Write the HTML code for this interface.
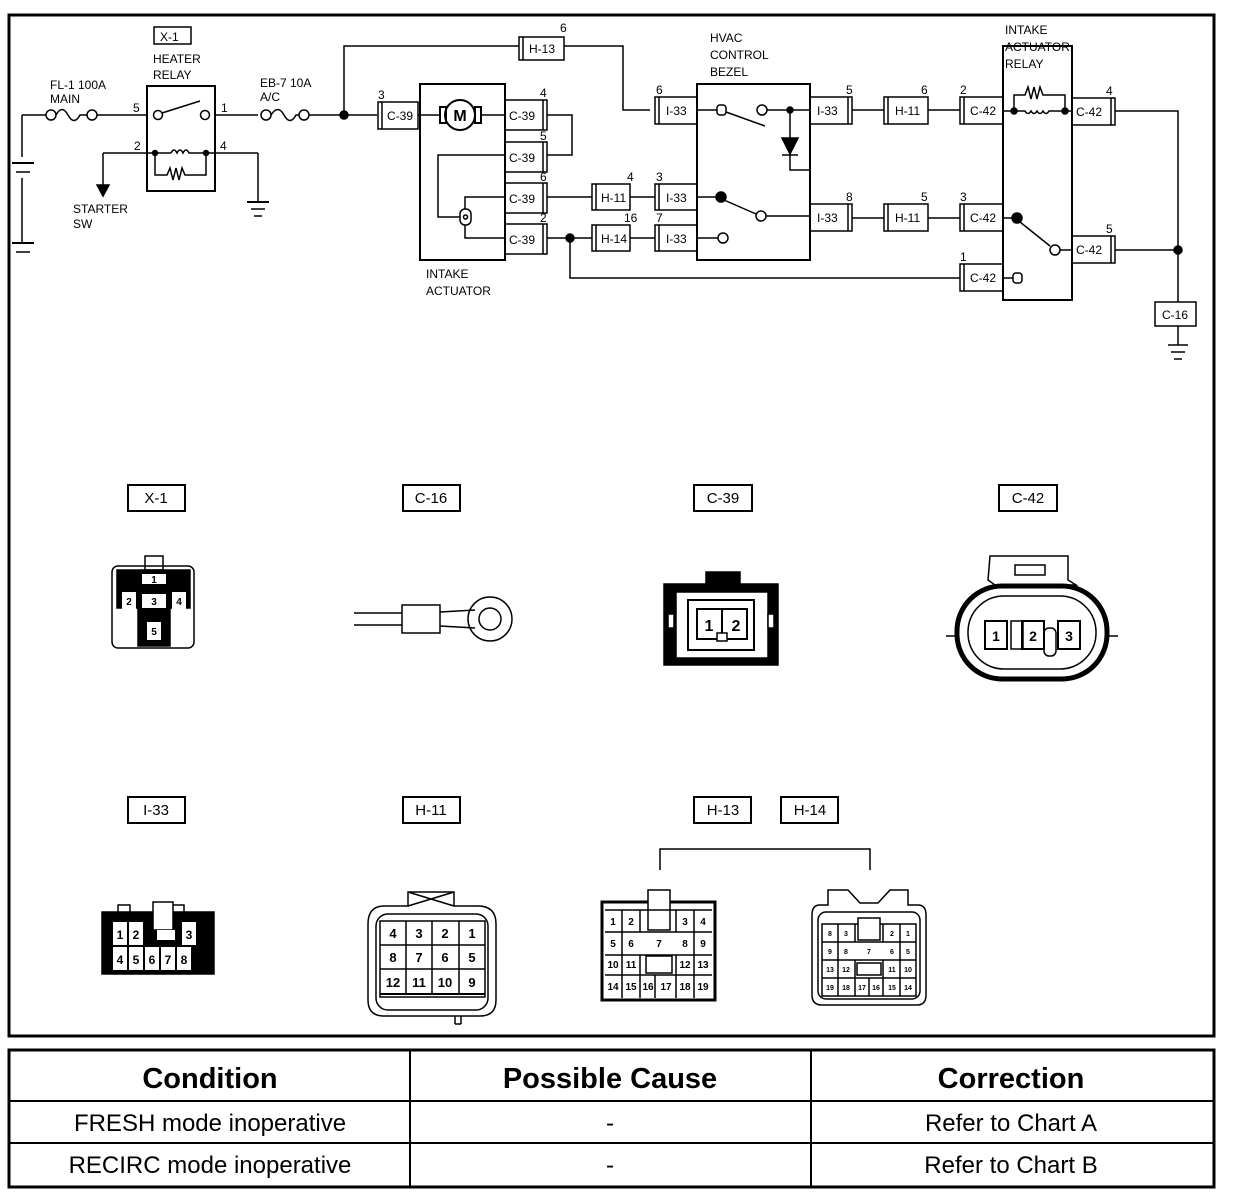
<!DOCTYPE html>
<html><head><meta charset="utf-8"><style>
body{margin:0;background:#fff;width:1248px;height:1200px;overflow:hidden}
svg{position:absolute;left:0;top:0}
text{font-family:"Liberation Sans",sans-serif;fill:#000}
.s{font-size:12px}
.t{font-size:12px}
</style></head><body>
<svg width="1248" height="1200" viewBox="0 0 1248 1200" stroke="#000" fill="none" stroke-width="1.5">
<rect x="9" y="15" width="1205" height="1021" stroke-width="3"/>
<!-- table -->
<rect x="9" y="1050" width="1205" height="137" stroke-width="3"/>
<line x1="9" y1="1101" x2="1214" y2="1101" stroke-width="2"/>
<line x1="9" y1="1143" x2="1214" y2="1143" stroke-width="2"/>
<line x1="410" y1="1050" x2="410" y2="1187" stroke-width="2"/>
<line x1="811" y1="1050" x2="811" y2="1187" stroke-width="2"/>
<g stroke="none" text-anchor="middle">
<text x="210" y="1088" style="font-size:29px;font-weight:bold">Condition</text>
<text x="610" y="1088" style="font-size:29px;font-weight:bold">Possible Cause</text>
<text x="1011" y="1088" style="font-size:29px;font-weight:bold">Correction</text>
<text x="210" y="1131" style="font-size:24px">FRESH mode inoperative</text>
<text x="610" y="1131" style="font-size:24px">-</text>
<text x="1011" y="1131" style="font-size:24px">Refer to Chart A</text>
<text x="210" y="1173" style="font-size:24px">RECIRC mode inoperative</text>
<text x="610" y="1173" style="font-size:24px">-</text>
<text x="1011" y="1173" style="font-size:24px">Refer to Chart B</text>
</g>

<!-- battery -->
<line x1="22" y1="115" x2="22" y2="157"/>
<line x1="22" y1="178" x2="22" y2="242"/>
<line x1="12" y1="163" x2="34" y2="163" stroke-width="2"/>
<line x1="16" y1="172" x2="30" y2="172"/>
<line x1="12" y1="243" x2="34" y2="243" stroke-width="2"/>
<line x1="16" y1="252" x2="30" y2="252"/>
<line x1="22" y1="115" x2="46" y2="115"/>
<circle cx="51" cy="115" r="5"/><circle cx="92" cy="115" r="5"/>
<path d="M56 115 Q62 104 68 115 T80 115 L87 115"/>
<line x1="97" y1="115" x2="147" y2="115"/>
<g stroke="none" class="t"><text x="50" y="89">FL-1 100A</text><text x="50" y="103">MAIN</text></g>
<!-- X-1 relay -->
<rect x="154" y="27" width="37" height="17"/>
<text x="160" y="41" stroke="none" class="s">X-1</text>
<g stroke="none" class="s"><text x="153" y="63">HEATER</text><text x="153" y="79">RELAY</text></g>
<rect x="147" y="86" width="68" height="105" stroke-width="2"/>
<circle cx="158" cy="115" r="4.5"/><circle cx="205" cy="115" r="4.5"/>
<line x1="162" y1="113" x2="200" y2="101"/>
<line x1="215" y1="115" x2="258" y2="115"/>
<g stroke="none" class="t"><text x="133" y="112">5</text><text x="221" y="112">1</text><text x="134" y="150">2</text><text x="220" y="150">4</text></g>
<line x1="103" y1="153" x2="171" y2="153"/>
<path d="M171 153 q3 -6 6 0 q3 -6 6 0 q3 -6 6 0 L258 153"/>
<circle cx="155" cy="153" r="2.5" fill="#000"/><circle cx="206" cy="153" r="2.5" fill="#000"/>
<path d="M155 153 V175 H167 l3 -7 l3 12 l3 -12 l3 12 l3 -12 l3 7 H206 V153"/>
<line x1="103" y1="153" x2="103" y2="185"/>
<path d="M97 185 L109 185 L103 196 Z" fill="#000"/>
<g stroke="none" class="t"><text x="73" y="213">STARTER</text><text x="73" y="228">SW</text></g>
<line x1="258" y1="153" x2="258" y2="202"/>
<line x1="247" y1="202" x2="269" y2="202" stroke-width="2"/>
<line x1="251" y1="209" x2="265" y2="209"/>
<line x1="254" y1="216" x2="262" y2="216"/>
<!-- EB-7 fuse -->
<circle cx="266" cy="115" r="5"/><circle cx="304" cy="115" r="5"/>
<path d="M271 115 Q278 104 284 115 T296 115 L299 115"/>
<line x1="309" y1="115" x2="377" y2="115"/>
<g stroke="none" class="t"><text x="260" y="87">EB-7 10A</text><text x="260" y="101">A/C</text></g>
<circle cx="344" cy="115" r="4" fill="#000"/>
<path d="M344 115 V46 H519"/>
<!-- H-13 -->
<rect x="519" y="37" width="45" height="23"/><line x1="523" y1="37" x2="523" y2="60"/>
<text x="529" y="53" stroke="none" class="t">H-13</text>
<text x="560" y="32" stroke="none" class="t">6</text>
<path d="M564 46 H623 V110 H650"/>
<!-- C-39 left -->
<rect x="378" y="102" width="40" height="27"/><line x1="382" y1="102" x2="382" y2="129"/>
<text x="387" y="120" stroke="none" class="t">C-39</text>
<text x="378" y="99" stroke="none" class="t">3</text>
<line x1="418" y1="115" x2="420" y2="115"/>
<!-- intake actuator -->
<rect x="420" y="84" width="85" height="176" stroke-width="2"/>
<circle cx="460" cy="115" r="15" stroke-width="2"/>
<text x="460" y="121" stroke="none" text-anchor="middle" style="font-size:16px;font-weight:bold">M</text>
<rect x="440" y="107" width="6" height="16" stroke-width="2"/><rect x="475" y="107" width="6" height="16" stroke-width="2"/>
<line x1="420" y1="115" x2="440" y2="115"/><line x1="481" y1="115" x2="505" y2="115"/>
<g class="t">
<rect x="505" y="100" width="42" height="30"/><line x1="543" y1="100" x2="543" y2="130"/><text x="509" y="120" stroke="none">C-39</text><text x="540" y="97" stroke="none">4</text>
<rect x="505" y="142" width="42" height="30"/><line x1="543" y1="142" x2="543" y2="172"/><text x="509" y="162" stroke="none">C-39</text><text x="540" y="140" stroke="none">5</text>
<rect x="505" y="183" width="42" height="30"/><line x1="543" y1="183" x2="543" y2="213"/><text x="509" y="203" stroke="none">C-39</text><text x="540" y="181" stroke="none">6</text>
<rect x="505" y="224" width="42" height="30"/><line x1="543" y1="224" x2="543" y2="254"/><text x="509" y="244" stroke="none">C-39</text><text x="540" y="222" stroke="none">2</text>
</g>
<path d="M547 115 H572 V155 H547"/>
<path d="M505 155 H438 V217 H460"/>
<rect x="460" y="209" width="11" height="16" rx="5"/>
<circle cx="465.5" cy="217" r="2"/>
<path d="M465 209 V197 H505 M465 225 V238 H505"/>
<g stroke="none" class="s"><text x="426" y="278">INTAKE</text><text x="426" y="295">ACTUATOR</text></g>
<line x1="547" y1="197" x2="592" y2="197"/>
<line x1="547" y1="238" x2="592" y2="238"/>
<circle cx="570" cy="238" r="4" fill="#000"/>
<path d="M570 238 V278 H960"/>
<g class="t">
<rect x="592" y="184" width="38" height="26"/><line x1="596" y1="184" x2="596" y2="210"/><text x="601" y="202" stroke="none">H-11</text><text x="627" y="181" stroke="none">4</text>
<rect x="592" y="225" width="38" height="26"/><line x1="596" y1="225" x2="596" y2="251"/><text x="601" y="243" stroke="none">H-14</text><text x="624" y="222" stroke="none">16</text>
<line x1="630" y1="197" x2="655" y2="197"/><line x1="630" y1="238" x2="655" y2="238"/>
<rect x="655" y="184" width="42" height="26"/><line x1="659" y1="184" x2="659" y2="210"/><text x="666" y="202" stroke="none">I-33</text><text x="656" y="181" stroke="none">3</text>
<rect x="655" y="225" width="42" height="26"/><line x1="659" y1="225" x2="659" y2="251"/><text x="666" y="243" stroke="none">I-33</text><text x="656" y="222" stroke="none">7</text>
<rect x="655" y="97" width="42" height="27"/><line x1="659" y1="97" x2="659" y2="124"/><text x="666" y="115" stroke="none">I-33</text><text x="656" y="94" stroke="none">6</text>
</g>
<!-- HVAC -->
<g stroke="none" class="s"><text x="710" y="42">HVAC</text><text x="710" y="59">CONTROL</text><text x="710" y="76">BEZEL</text></g>
<rect x="697" y="84" width="113" height="176" stroke-width="2"/>
<line x1="697" y1="110" x2="717" y2="110"/>
<rect x="717" y="105" width="9" height="10" rx="3"/>
<circle cx="762" cy="110" r="5"/>
<line x1="726" y1="112" x2="765" y2="126"/>
<path d="M767 110 H810"/>
<circle cx="790" cy="110" r="3" fill="#000"/>
<path d="M790 110 V138"/>
<path d="M782 138 H798 L790 154 Z" fill="#000"/>
<path d="M782 155 H798 M790 154 V170 H810"/>
<line x1="697" y1="197" x2="720" y2="197"/>
<circle cx="721" cy="197" r="5" fill="#000"/>
<line x1="724" y1="200" x2="756" y2="214"/>
<circle cx="761" cy="216" r="5"/>
<line x1="766" y1="216" x2="810" y2="216"/>
<line x1="697" y1="238" x2="718" y2="238"/><circle cx="723" cy="238" r="5"/>
<g class="t">
<rect x="810" y="97" width="42" height="27"/><line x1="848" y1="97" x2="848" y2="124"/><text x="817" y="115" stroke="none">I-33</text><text x="846" y="94" stroke="none">5</text>
<rect x="810" y="204" width="42" height="27"/><line x1="848" y1="204" x2="848" y2="231"/><text x="817" y="222" stroke="none">I-33</text><text x="846" y="201" stroke="none">8</text>
<line x1="852" y1="110" x2="884" y2="110"/><line x1="852" y1="218" x2="884" y2="218"/>
<rect x="884" y="97" width="44" height="27"/><line x1="888" y1="97" x2="888" y2="124"/><text x="895" y="115" stroke="none">H-11</text><text x="921" y="94" stroke="none">6</text>
<rect x="884" y="204" width="44" height="27"/><line x1="888" y1="204" x2="888" y2="231"/><text x="895" y="222" stroke="none">H-11</text><text x="921" y="201" stroke="none">5</text>
<line x1="928" y1="110" x2="960" y2="110"/><line x1="928" y1="218" x2="960" y2="218"/>
<rect x="960" y="97" width="43" height="27"/><line x1="964" y1="97" x2="964" y2="124"/><text x="970" y="115" stroke="none">C-42</text><text x="960" y="94" stroke="none">2</text>
<rect x="960" y="204" width="43" height="27"/><line x1="964" y1="204" x2="964" y2="231"/><text x="970" y="222" stroke="none">C-42</text><text x="960" y="201" stroke="none">3</text>
<rect x="960" y="264" width="43" height="27"/><line x1="964" y1="264" x2="964" y2="291"/><text x="970" y="282" stroke="none">C-42</text><text x="960" y="261" stroke="none">1</text>
<rect x="1072" y="98" width="43" height="27"/><line x1="1111" y1="98" x2="1111" y2="125"/><text x="1076" y="116" stroke="none">C-42</text><text x="1106" y="95" stroke="none">4</text>
<rect x="1072" y="236" width="43" height="27"/><line x1="1111" y1="236" x2="1111" y2="263"/><text x="1076" y="254" stroke="none">C-42</text><text x="1106" y="233" stroke="none">5</text>
</g>
<!-- intake actuator relay -->
<g stroke="none" class="s"><text x="1005" y="34">INTAKE</text><text x="1005" y="51">ACTUATOR</text><text x="1005" y="68">RELAY</text></g>
<rect x="1003" y="46" width="69" height="254" stroke-width="2"/>
<line x1="1003" y1="111" x2="1014" y2="111"/>
<circle cx="1014" cy="111" r="3" fill="#000"/><circle cx="1065" cy="111" r="3" fill="#000"/>
<path d="M1014 111 H1025 q3 5 6 0 q3 5 6 0 q3 5 6 0 q3 5 6 0 H1072"/>
<path d="M1014 111 V95 H1025 l3 -8 l3 12 l3 -12 l3 12 l3 -12 l3 8 H1065 V111"/>
<line x1="1003" y1="218" x2="1016" y2="218"/>
<circle cx="1017" cy="218" r="5" fill="#000"/>
<line x1="1020" y1="222" x2="1050" y2="246"/>
<circle cx="1055" cy="250" r="5"/>
<line x1="1060" y1="250" x2="1072" y2="250"/>
<line x1="1003" y1="278" x2="1013" y2="278"/>
<rect x="1013" y="273" width="9" height="10" rx="3"/>
<path d="M1115 111 H1178 V302 M1115 250 H1178"/>
<circle cx="1178" cy="250" r="4" fill="#000"/>
<rect x="1155" y="302" width="41" height="24"/>
<text x="1162" y="319" stroke="none" class="t">C-16</text>
<line x1="1178" y1="326" x2="1178" y2="345"/>
<line x1="1168" y1="345" x2="1188" y2="345"/>
<line x1="1171" y1="352" x2="1185" y2="352"/>
<line x1="1174" y1="359" x2="1182" y2="359"/>

<!-- connector labels -->
<g class="s">
<rect x="128" y="485" width="57" height="26" stroke-width="2"/><text x="156" y="503" stroke="none" text-anchor="middle" style="font-size:15px">X-1</text>
<rect x="403" y="485" width="57" height="26" stroke-width="2"/><text x="431" y="503" stroke="none" text-anchor="middle" style="font-size:15px">C-16</text>
<rect x="694" y="485" width="58" height="26" stroke-width="2"/><text x="723" y="503" stroke="none" text-anchor="middle" style="font-size:15px">C-39</text>
<rect x="999" y="485" width="58" height="26" stroke-width="2"/><text x="1028" y="503" stroke="none" text-anchor="middle" style="font-size:15px">C-42</text>
<rect x="128" y="797" width="57" height="26" stroke-width="2"/><text x="156" y="815" stroke="none" text-anchor="middle" style="font-size:15px">I-33</text>
<rect x="403" y="797" width="57" height="26" stroke-width="2"/><text x="431" y="815" stroke="none" text-anchor="middle" style="font-size:15px">H-11</text>
<rect x="694" y="797" width="57" height="26" stroke-width="2"/><text x="723" y="815" stroke="none" text-anchor="middle" style="font-size:15px">H-13</text>
<rect x="781" y="797" width="57" height="26" stroke-width="2"/><text x="810" y="815" stroke="none" text-anchor="middle" style="font-size:15px">H-14</text>
</g>
<path d="M660 870 V849 H870 V870"/>

<!-- X-1 connector -->
<rect x="112" y="566" width="82" height="82" rx="6"/>
<path d="M117 570 H190 V608 H170 V646 H138 V608 H117 Z" fill="#000"/>
<rect x="145" y="556" width="18" height="14"/>
<g fill="#fff" stroke="none"><rect x="142" y="574" width="24" height="10"/><rect x="122" y="592" width="14" height="18"/><rect x="142" y="594" width="24" height="14"/><rect x="172" y="592" width="14" height="18"/><rect x="147" y="622" width="14" height="18"/></g>
<g stroke="none" style="font-size:10px;font-weight:bold" text-anchor="middle"><text x="154" y="583">1</text><text x="129" y="605">2</text><text x="154" y="605">3</text><text x="179" y="605">4</text><text x="154" y="635">5</text></g>
<!-- C-16 ring -->
<line x1="354" y1="613" x2="402" y2="613"/><line x1="354" y1="625" x2="402" y2="625"/>
<rect x="402" y="605" width="38" height="28"/>
<path d="M440 612 L475 610 M440 626 L475 628"/>
<circle cx="490" cy="619" r="22"/><circle cx="490" cy="619" r="11"/>
<!-- C-39 -->
<path d="M664 584 H706 V572 H740 V584 H778 V665 H664 Z" fill="#000"/>
<rect x="676" y="592" width="92" height="66" fill="#fff"/>
<rect x="688" y="600" width="66" height="50" stroke-width="2"/>
<rect x="697" y="609" width="50" height="30" stroke-width="2"/>
<line x1="722" y1="609" x2="722" y2="639" stroke-width="2"/>
<rect x="717" y="633" width="10" height="8" fill="#fff"/>
<g stroke="none" style="font-size:16px;font-weight:bold" text-anchor="middle"><text x="709" y="631">1</text><text x="736" y="631">2</text></g>
<rect x="668" y="614" width="6" height="14" fill="#fff"/><rect x="768" y="614" width="6" height="14" fill="#fff"/>
<!-- C-42 -->
<path d="M990 556 H1068 V580 L1076 585 H995 L988 580 Z"/>
<rect x="1015" y="565" width="30" height="10"/>
<rect x="957" y="586" width="150" height="93" rx="45" stroke-width="5"/>
<rect x="968" y="596" width="128" height="73" rx="36"/>
<line x1="946" y1="636" x2="957" y2="636"/><line x1="1107" y1="636" x2="1118" y2="636"/>
<rect x="985" y="621" width="22" height="28" stroke-width="2"/>
<rect x="1011" y="621" width="12" height="28"/>
<rect x="1022" y="621" width="22" height="28" stroke-width="2"/>
<rect x="1058" y="621" width="22" height="28" stroke-width="2"/>
<rect x="1044" y="628" width="12" height="28" rx="5"/>
<g stroke="none" style="font-size:14px;font-weight:bold" text-anchor="middle"><text x="996" y="641">1</text><text x="1033" y="641">2</text><text x="1069" y="641">3</text></g>
<!-- I-33 -->
<rect x="102" y="912" width="112" height="62" fill="#000"/>
<rect x="118" y="905" width="12" height="8"/><rect x="172" y="905" width="12" height="8"/><rect x="153" y="902" width="20" height="28" fill="#fff"/>
<g fill="#fff" stroke="none">
<rect x="113" y="922" width="14" height="23"/><rect x="129" y="922" width="14" height="23"/><rect x="182" y="922" width="14" height="23"/>
<rect x="113" y="947" width="14" height="23"/><rect x="129" y="947" width="14" height="23"/><rect x="145" y="947" width="14" height="23"/><rect x="161" y="947" width="14" height="23"/><rect x="177" y="947" width="14" height="23"/>
<rect x="157" y="930" width="18" height="10"/>
</g>
<g stroke="none" style="font-size:12px;font-weight:bold" text-anchor="middle"><text x="120" y="939">1</text><text x="136" y="939">2</text><text x="189" y="939">3</text><text x="120" y="964">4</text><text x="136" y="964">5</text><text x="152" y="964">6</text><text x="168" y="964">7</text><text x="184" y="964">8</text></g>
<!-- H-11 -->
<path d="M384 906 H408 V892 H454 V906 H478 Q496 906 496 924 V1000 Q496 1016 480 1016 H384 Q368 1016 368 1000 V924 Q368 906 384 906 Z"/>
<path d="M408 892 L454 906 M454 892 L408 906"/>
<rect x="376" y="914" width="112" height="96" rx="12"/>
<rect x="380" y="921" width="105" height="76"/>
<line x1="380" y1="994" x2="485" y2="994" stroke-width="2"/>
<path d="M406 921 V994 M432 921 V994 M459 921 V994 M380 945 H485 M380 969 H485"/>
<line x1="455" y1="1016" x2="455" y2="1024"/><line x1="461" y1="1016" x2="461" y2="1024"/><line x1="455" y1="1024" x2="461" y2="1024"/>
<g stroke="none" style="font-size:13px;font-weight:bold" text-anchor="middle"><text x="393" y="938">4</text><text x="419" y="938">3</text><text x="445" y="938">2</text><text x="472" y="938">1</text><text x="393" y="962">8</text><text x="419" y="962">7</text><text x="445" y="962">6</text><text x="472" y="962">5</text><text x="393" y="987">12</text><text x="419" y="987">11</text><text x="445" y="987">10</text><text x="472" y="987">9</text></g>
<!-- H-13 -->
<rect x="602" y="902" width="113" height="98" stroke-width="3"/>
<rect x="648" y="890" width="22" height="40" fill="#fff"/>
<path d="M605 910 H712 M605 932 H712 M605 955 H712 M605 975 H712 M622 910 V998 M640 955 V998 M676 955 V998 M694 910 V998 M655 975 V998 M640 910 V932 M676 910 V932"/>
<rect x="646" y="956" width="26" height="17"/>
<g stroke="none" style="font-size:10px;font-weight:bold" text-anchor="middle"><text x="613" y="925">1</text><text x="631" y="925">2</text><text x="685" y="925">3</text><text x="703" y="925">4</text><text x="613" y="947">5</text><text x="631" y="947">6</text><text x="659" y="947">7</text><text x="685" y="947">8</text><text x="703" y="947">9</text><text x="613" y="968">10</text><text x="631" y="968">11</text><text x="685" y="968">12</text><text x="703" y="968">13</text><text x="613" y="990">14</text><text x="631" y="990">15</text><text x="648" y="990">16</text><text x="666" y="990">17</text><text x="685" y="990">18</text><text x="703" y="990">19</text></g>
<!-- H-14 -->
<path d="M820 905 Q812 905 812 915 V995 Q812 1005 822 1005 H917 Q926 1005 926 995 V915 Q926 905 918 905 H908 V890 L890 890 L878 903 H860 L848 890 L828 890 V905 Z"/>
<rect x="818" y="912" width="102" height="87" rx="8"/>
<rect x="822" y="924" width="94" height="72"/>
<path d="M822 942 H916 M822 960 H916 M822 978 H916 M838 924 V996 M855 924 V942 M883 924 V942 M900 924 V996 M855 960 V996 M883 960 V996 M869 978 V996"/>
<rect x="858" y="918" width="22" height="22" fill="#fff"/>
<rect x="857" y="963" width="24" height="12"/>
<g stroke="none" style="font-size:7px;font-weight:bold" text-anchor="middle"><text x="830" y="936">8</text><text x="846" y="936">3</text><text x="892" y="936">2</text><text x="908" y="936">1</text><text x="830" y="954">9</text><text x="846" y="954">8</text><text x="869" y="954">7</text><text x="892" y="954">6</text><text x="908" y="954">5</text><text x="830" y="972">13</text><text x="846" y="972">12</text><text x="892" y="972">11</text><text x="908" y="972">10</text><text x="830" y="990">19</text><text x="846" y="990">18</text><text x="862" y="990">17</text><text x="876" y="990">16</text><text x="892" y="990">15</text><text x="908" y="990">14</text></g>
</svg>
</body></html>
